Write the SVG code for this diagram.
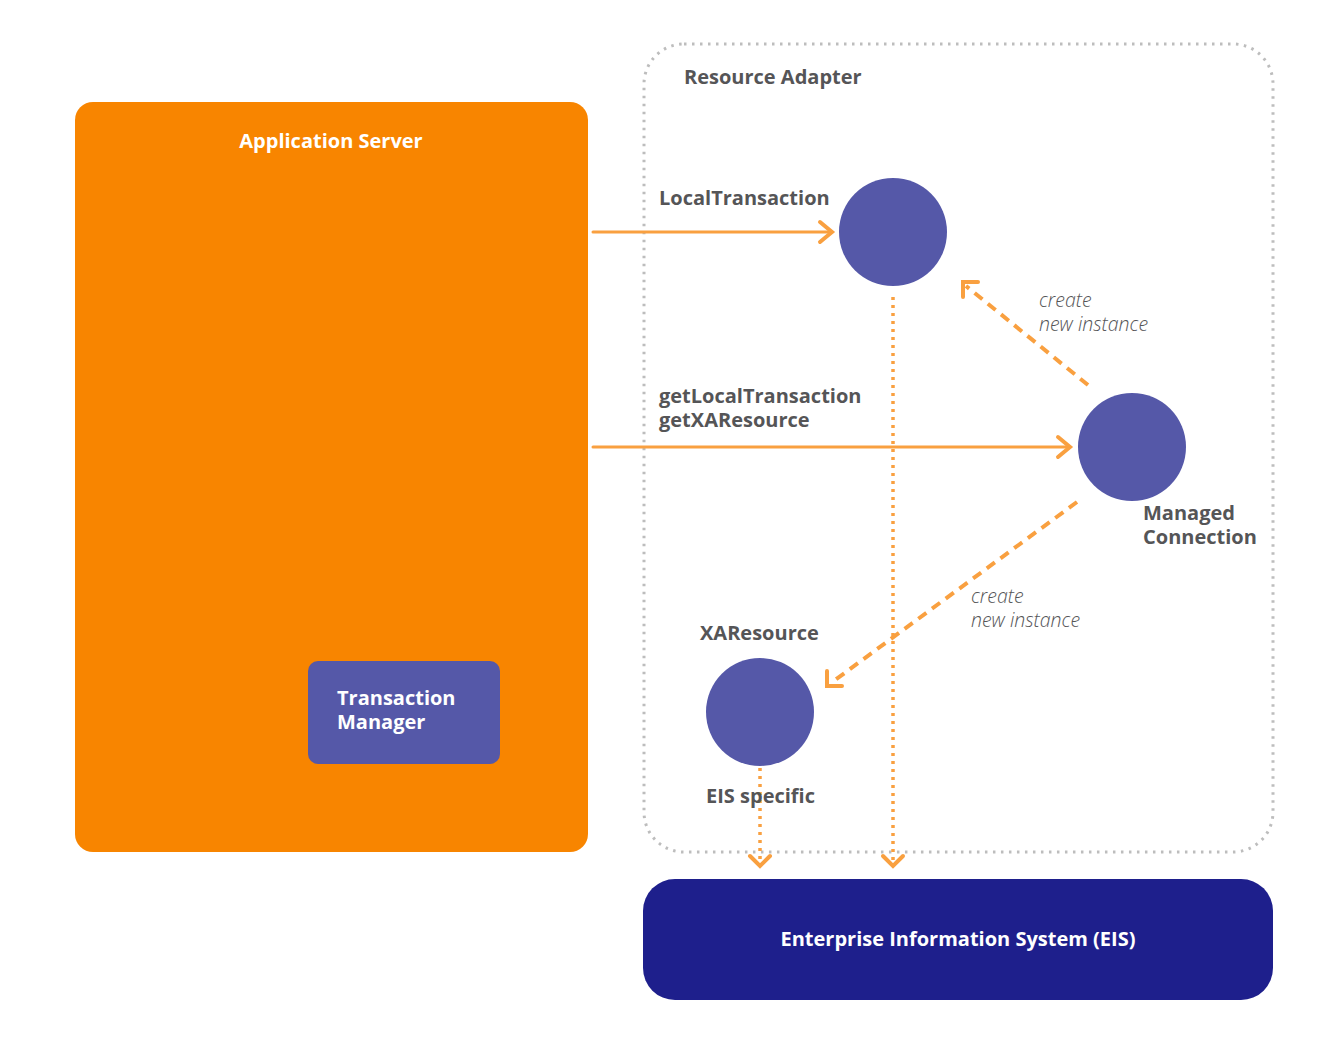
<svg xmlns="http://www.w3.org/2000/svg" width="1318" height="1060" viewBox="0 0 1318 1060">
<style>
.lbl{font-family:"Open Sans","Liberation Sans",sans-serif;font-weight:700;font-size:20px;fill:#555557}
.w{fill:#ffffff}
.it{font-family:"Open Sans","Liberation Sans",sans-serif;font-weight:300;font-style:italic;font-size:19.5px;fill:#555557}
.node{fill:#5558a8}
.solid{stroke:#f9a040;stroke-width:3;fill:none;stroke-linecap:round}
.dash{stroke:#f9a040;stroke-width:4;fill:none;stroke-dasharray:10 7}
.dot{stroke:#f9a040;stroke-width:3.5;fill:none;stroke-dasharray:3 5}
.head{stroke:#f9a040;stroke-width:4;fill:none;stroke-linecap:round;stroke-linejoin:miter}
</style>
<rect width="1318" height="1060" fill="#ffffff"/>
<g id="resource-adapter">
<rect x="644" y="44" width="629" height="808" rx="40" fill="none" stroke="#bdbdbd" stroke-width="3" stroke-dasharray="2.5 5.5"/>
<text class="lbl" x="684" y="84">Resource Adapter</text>
</g>
<g id="application-server">
<rect x="75" y="102" width="513" height="750" rx="18" fill="#f88500"/>
<text class="lbl w" x="331" y="148" text-anchor="middle">Application Server</text>
</g>
<g id="transaction-manager">
<rect x="308" y="661" width="192" height="103" rx="10" class="node"/>
<text class="lbl w" x="337" y="705">Transaction</text>
<text class="lbl w" x="337" y="729">Manager</text>
</g>
<g id="local-transaction">
<circle cx="893" cy="232" r="54" class="node"/>
</g>
<g id="managed-connection">
<circle cx="1132" cy="447" r="54" class="node"/>
<text class="lbl" x="1143" y="520">Managed</text>
<text class="lbl" x="1143" y="544">Connection</text>
</g>
<g id="xaresource">
<circle cx="760" cy="712" r="54" class="node"/>
<text class="lbl" x="700" y="640">XAResource</text>
</g>
<g id="eis">
<rect x="643" y="879" width="630" height="121" rx="32" fill="#1e1f8c"/>
<text class="lbl w" x="958" y="946" text-anchor="middle">Enterprise Information System (EIS)</text>
</g>
<g id="connectors">
<line class="solid" x1="593" y1="232" x2="832" y2="232"/>
<path class="head" d="M820 222 L832 232 L820 242"/>
<text class="lbl" x="659" y="205">LocalTransaction</text>
<line class="solid" x1="593" y1="447" x2="1070" y2="447"/>
<path class="head" d="M1058 437 L1070 447 L1058 457"/>
<text class="lbl" x="659" y="403">getLocalTransaction</text>
<text class="lbl" x="659" y="427">getXAResource</text>
<line class="dot" x1="893" y1="297" x2="893" y2="866"/>
<path class="head" d="M883 856 L893 866 L903 856"/>
<line class="dot" x1="760" y1="768" x2="760" y2="866"/>
<path class="head" d="M750 856 L760 866 L770 856"/>
<line class="dash" x1="1088" y1="385" x2="966" y2="286"/>
<path class="head" d="M963 297 L963 282 L978 282"/>
<text class="it" x="1039" y="307">create</text>
<text class="it" x="1039" y="331">new instance</text>
<line class="dash" x1="1077" y1="502" x2="831" y2="683"/>
<path class="head" d="M827 671 L827 686 L842 686"/>
<text class="it" x="971" y="603">create</text>
<text class="it" x="971" y="627">new instance</text>
<text class="lbl" x="706" y="803">EIS specific</text>
</g>
</svg>
